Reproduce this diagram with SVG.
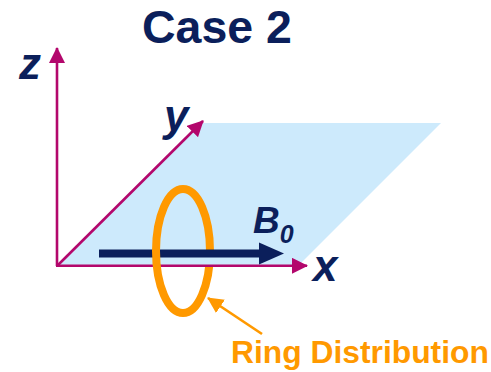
<svg xmlns="http://www.w3.org/2000/svg" width="491" height="372" viewBox="0 0 491 372">
<style>
.lbl{font-family:"Liberation Sans",Arial,sans-serif;font-weight:bold;fill:#0b1f5b}
.it{font-style:italic}
.axis{stroke:#b3076c;stroke-width:2.6;fill:none}
.ring{stroke:#ff9900;stroke-width:8;fill:none}
</style>
<defs>
<marker id="ah" viewBox="0 0 16 16" refX="15" refY="8" markerWidth="16" markerHeight="16" markerUnits="userSpaceOnUse" orient="auto">
<path d="M0,0 L16,8 L0,16 Z" fill="#b3076c"/>
</marker>
<marker id="oh" viewBox="0 0 16 16" refX="15" refY="8" markerWidth="16" markerHeight="16" markerUnits="userSpaceOnUse" orient="auto">
<path d="M0,0 L16,8 L0,16 Z" fill="#ff9900"/>
</marker>
</defs>
<rect width="491" height="372" fill="#fff"/>
<g id="title"><text class="lbl" x="142" y="43" font-size="46.5">Case 2</text></g>
<g id="plane"><polygon points="57,265 202,123 441,123 299,265" fill="#cdeafc"/></g>
<g id="ring-back"><path class="ring" d="M183,189 A27,62 0 0 1 183,313"/></g>
<g id="connectors">
<line class="axis" x1="57" y1="266" x2="57" y2="48" marker-end="url(#ah)"/>
<line class="axis" x1="57" y1="266" x2="203" y2="121" marker-end="url(#ah)"/>
<rect x="200" y="257" width="20" height="8" fill="#cdeafc"/>
<line class="axis" x1="56" y1="265.8" x2="307" y2="265.8" marker-end="url(#ah)"/>
<g id="B0-arrow">
<line x1="99" y1="253.5" x2="262" y2="253.5" stroke="#0b1f5b" stroke-width="8"/>
<path d="M259,242.5 L284,253.5 L259,264.5 Z" fill="#0b1f5b"/>
</g>
<line x1="262" y1="334" x2="208" y2="298" stroke="#ff9900" stroke-width="2.6" marker-end="url(#oh)"/>
</g>
<g id="ring-front"><path class="ring" d="M183,189 A27,62 0 0 0 183,313"/></g>
<g id="labels">
<text class="lbl it" x="19" y="79" font-size="44">z</text>
<text class="lbl it" x="164" y="131" font-size="44">y</text>
<text class="lbl it" x="313" y="281" font-size="44">x</text>
<text class="lbl it" x="253" y="233" font-size="37">B<tspan font-size="25" dy="10">0</tspan></text>
<text x="231" y="363" font-size="31.8" font-family="Liberation Sans,Arial,sans-serif" font-weight="bold" fill="#ff9900">Ring Distribution</text>
</g>
</svg>
